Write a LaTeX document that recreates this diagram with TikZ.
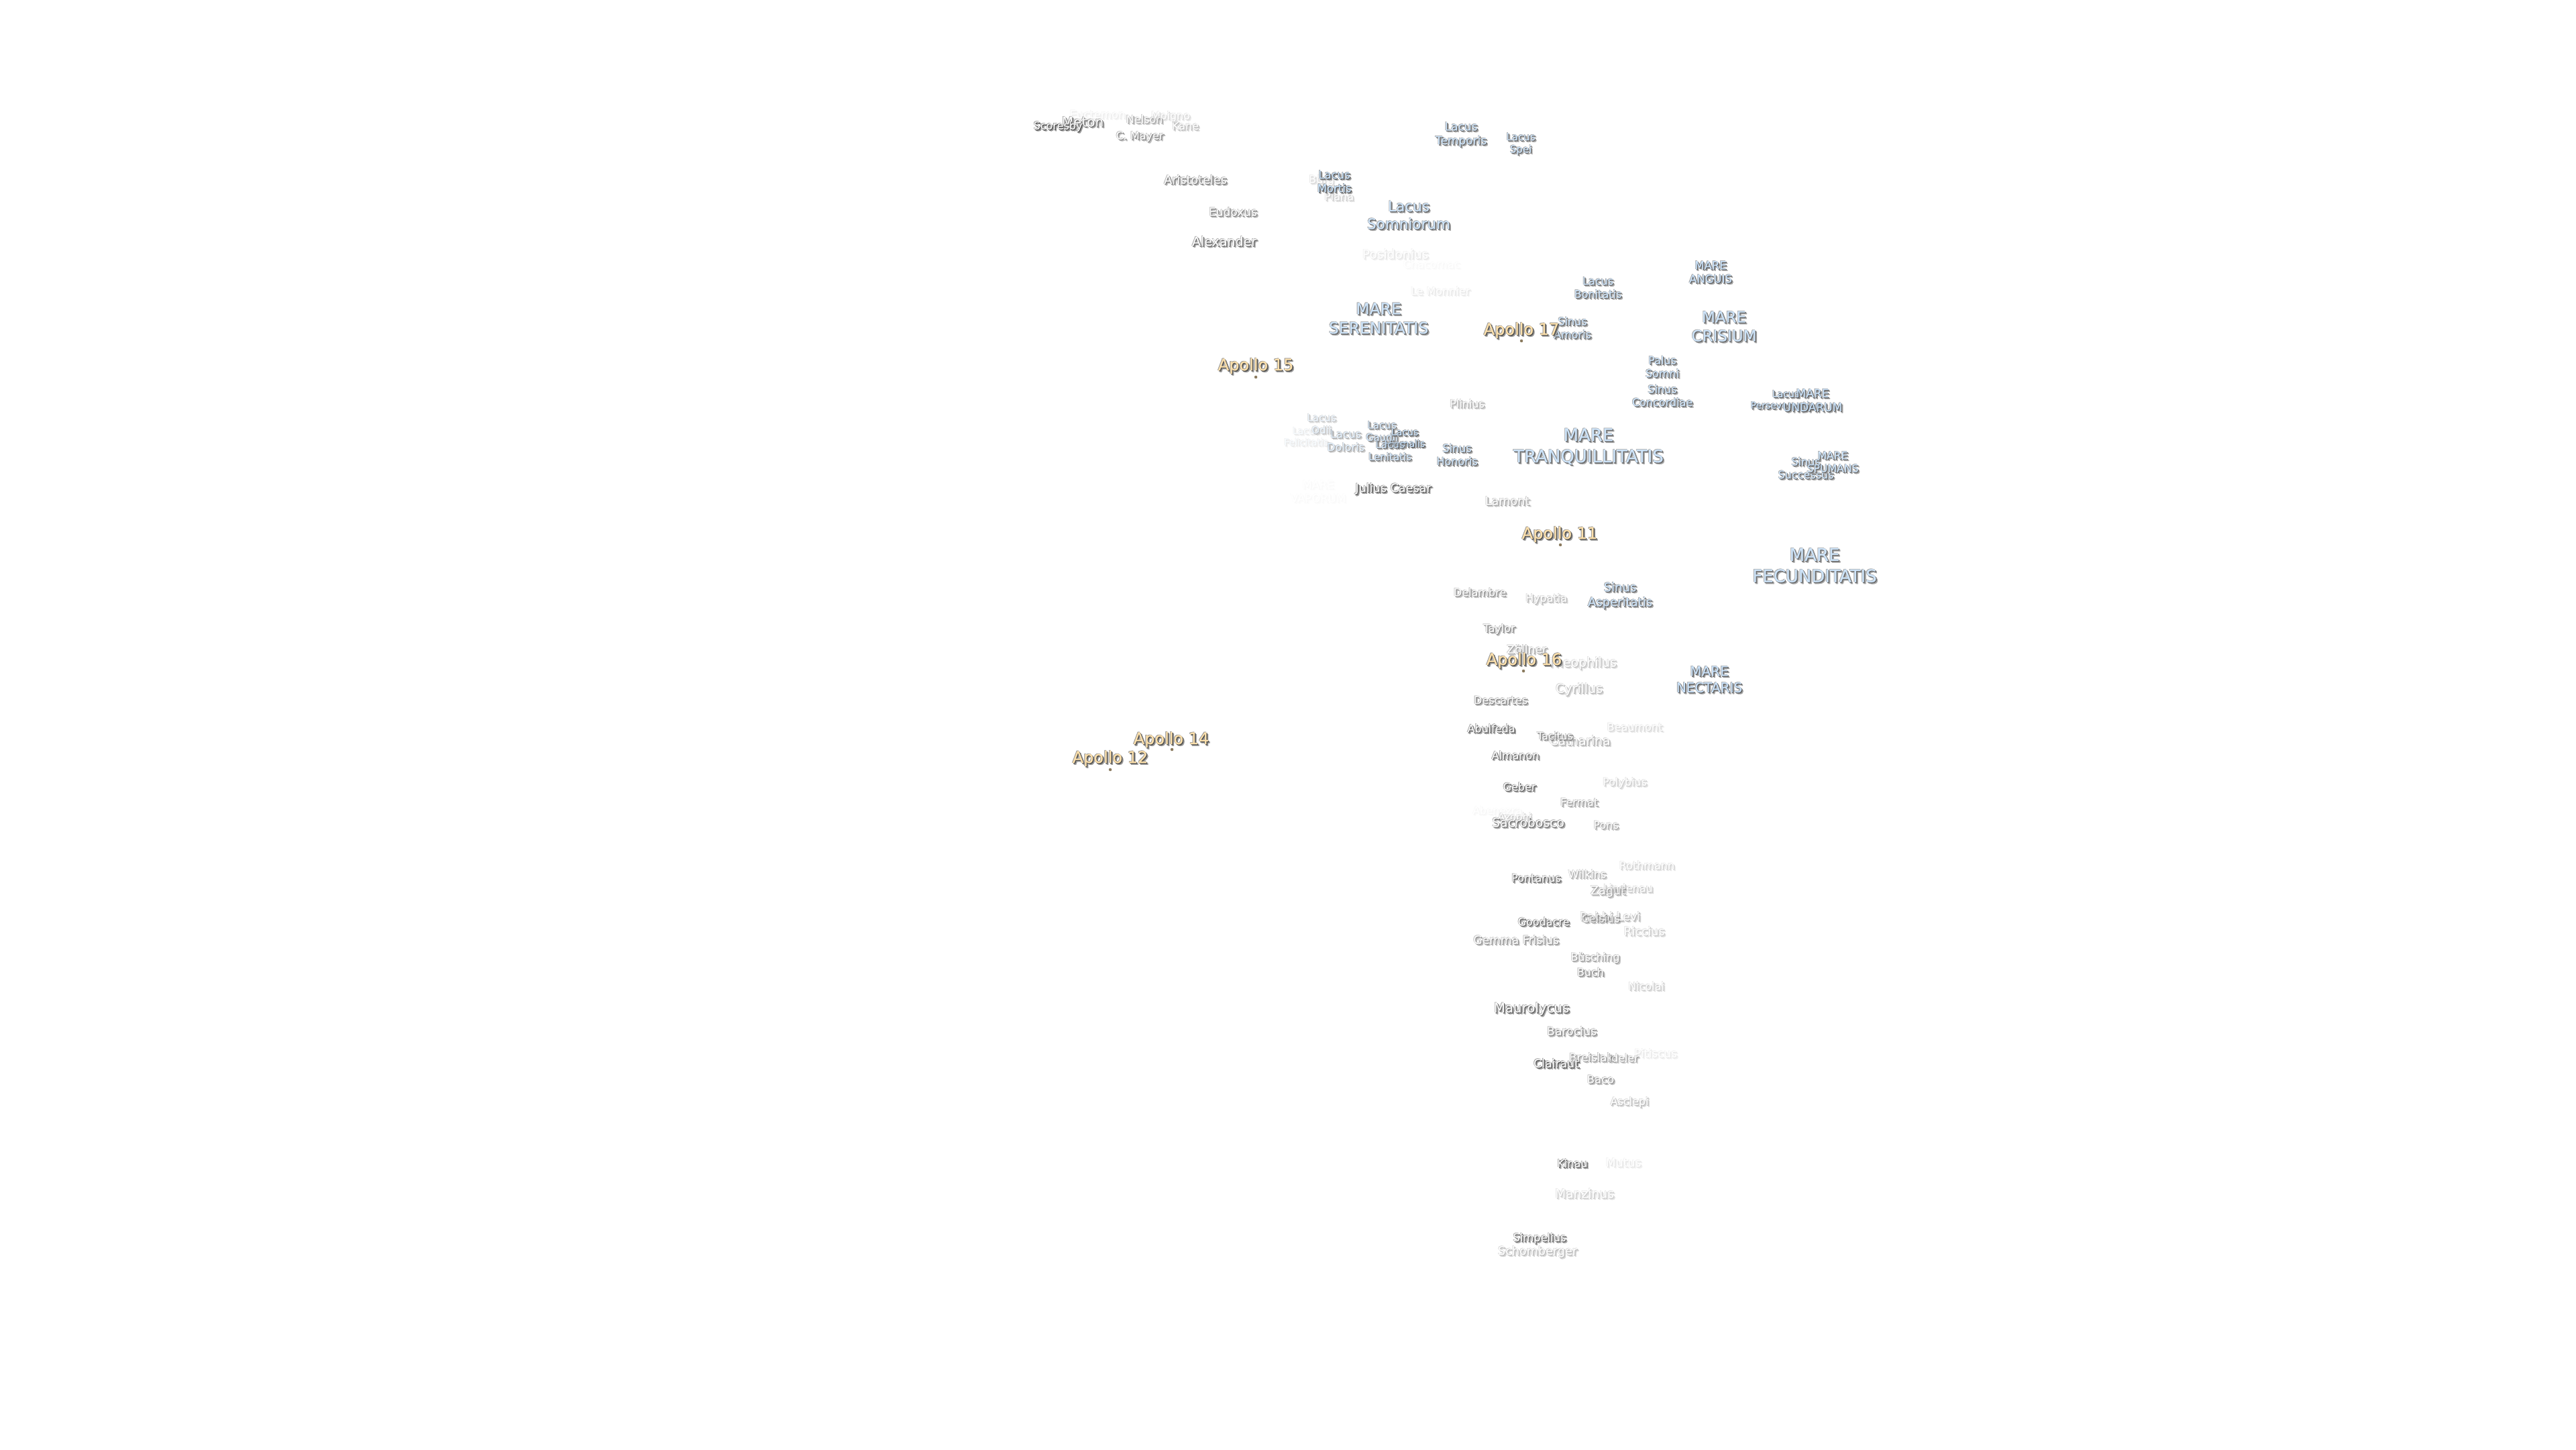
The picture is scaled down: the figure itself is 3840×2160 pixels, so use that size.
\documentclass[tikz,border=0pt]{standalone}
\usepackage{fontspec}
\setmainfont{DejaVu Sans}
\newfontfamily\shadeface{DejaVu Sans}[FakeBold=1.8]
\newfontfamily\fillface{DejaVu Sans}[FakeBold=0.5]
\usepackage{xcolor}
\definecolor{marefill}{HTML}{C4DEF7}
\definecolor{craterfill}{HTML}{F6F6F6}
\definecolor{apollofill}{HTML}{FCE0AC}
\tikzset{
  namebase/.style={inner sep=0pt,align=center},
  farshade/.style={namebase,text=black!40},
  nearshade/.style={namebase,text=black!70},
  rimshade/.style={namebase,text=black!42},
  sitemark/.style={circle,inner sep=0pt,minimum size=4.5pt,fill=apollofill!55!black},
}
% name, x, y, size, opacity, fill, text
\newcommand{\moonname}[7]{%
  \begin{scope}[transparency group,opacity=#5]
    \def\sizeit{\linespread{1.22}\fontsize{#4}{#4}\selectfont}
    \node[farshade,font=\shadeface\sizeit] (#1-far) at (#2+2.6,#3+2.9) {#7};
    \node[rimshade,font=\shadeface\sizeit] (#1-rim) at (#2-0.7,#3-0.2) {#7};
    \node[nearshade,font=\shadeface\sizeit] (#1-near) at (#2+1.1,#3+1.6) {#7};
    \node[namebase,text=#6,font=\fillface\sizeit] (#1) at (#2,#3+0.4) {#7};
  \end{scope}}
\newcommand{\crater}[6]{\moonname{#1}{#2}{#3}{#4}{#5}{craterfill}{#6}}
\newcommand{\water}[6]{\moonname{#1}{#2}{#3}{#4}{#5}{marefill}{#6}}
\newcommand{\landing}[5]{%
  \moonname{#1}{#2}{#3}{24}{1}{apollofill}{#4}%
  \node[sitemark] (#1-site) at #5 {};}
\begin{document}
\begin{tikzpicture}[x=1pt,y=-1pt]
  \useasboundingbox (0,0) rectangle (3840,2160);
  % north
  \crater{euctemon}{1636}{170}{16.5}{.1}{Euctemon}
  \crater{moigno}{1745}{173}{16}{.22}{Moigno}
  \crater{kane}{1767}{187}{16}{.38}{Kane}
  \crater{nelson}{1706}{177}{16}{.5}{Nelson}
  \crater{meton}{1614}{181}{20}{.8}{Meton}
  \crater{scoresby}{1577}{188}{16}{1}{Scoresby}
  \crater{cmayer}{1699}{203}{16}{.65}{C. Mayer}
  \water{temporis}{2178}{200}{17}{.85}{Lacus\\Temporis}
  \water{spei}{2267}{214}{15}{.85}{Lacus\\Spei}
  \crater{aristoteles}{1782}{267}{17.6}{.72}{Aristoteles}
  \crater{burg}{1970}{268}{16}{.22}{Bürg}
  \crater{plana}{1996}{292}{16}{.28}{Plana}
  \water{mortis}{1989}{270}{16.5}{.95}{Lacus\\Mortis}
  \water{somniorum}{2100}{320}{21.5}{.85}{Lacus\\Somniorum}
  \crater{eudoxus}{1838}{315}{17}{.68}{Eudoxus}
  \crater{alexander}{1825}{359}{19}{.82}{Alexander}
  \crater{posidonius}{2080}{378}{18.6}{.14}{Posidonius}
  \crater{chacornac}{2134}{393}{16}{.04}{Chacornac}
  \crater{lemonnier}{2147}{433}{16}{.13}{Le Monnier}
  \water{serenitatis}{2055}{474}{23.5}{.85}{MARE\\SERENITATIS}
  % east
  \water{bonitatis}{2382}{428}{16}{.85}{Lacus\\Bonitatis}
  \water{anguis}{2550}{405}{16.5}{.9}{MARE\\ANGUIS}
  \water{amoris}{2344}{488}{16}{.85}{Sinus\\Amoris}
  \water{crisium}{2570}{486}{23}{.85}{MARE\\CRISIUM}
  \water{somni}{2478}{546}{16}{.85}{Palus\\Somni}
  \water{concordiae}{2478}{589}{16}{.85}{Sinus\\Concordiae}
  \water{perseverantiae}{2662}{595}{14}{.9}{Lacus\\Perseverantiae}
  \water{undarum}{2702}{596}{17}{.9}{MARE\\UNDARUM}
  \water{successus}{2692}{697}{16}{.85}{Sinus\\Successus}
  \water{spumans}{2732}{688}{15.7}{.85}{MARE\\SPUMANS}
  % central lakes
  \crater{plinius}{2187}{601}{16}{.45}{Plinius}
  \crater{vaporum}{1965}{732}{16.5}{.03}{MARE\\VAPORUM}
  \water{felicitatis}{1947}{650}{14}{.13}{Lacus\\Felicitatis}
  \water{odii}{1970}{631}{15}{.33}{Lacus\\Odii}
  \water{doloris}{2006}{656}{16}{.48}{Lacus\\Doloris}
  \water{gaudii}{2060}{642}{15}{.72}{Lacus\\Gaudii}
  \water{hiemalis}{2094}{652}{14}{.95}{Lacus\\Hiemalis}
  \water{lenitatis}{2072}{671}{15}{.78}{Lacus\\Lenitatis}
  \water{honoris}{2172}{677}{16}{.85}{Sinus\\Honoris}
  \water{tranquillitatis}{2368}{665}{26}{.85}{MARE\\TRANQUILLITATIS}
  \crater{caesar}{2077}{728}{17.6}{.92}{Julius Caesar}
  \crater{lamont}{2247}{746}{17.6}{.5}{Lamont}
  \water{fecunditatis}{2705}{842}{26}{.85}{MARE\\FECUNDITATIS}
  % central highlands
  \crater{delambre}{2206}{882}{16}{.6}{Delambre}
  \crater{hypatia}{2305}{892}{16}{.4}{Hypatia}
  \water{asperitatis}{2415}{887}{18}{.85}{Sinus\\Asperitatis}
  \crater{taylor}{2235}{937}{16}{.65}{Taylor}
  \crater{zollner}{2276}{967}{17}{.5}{Zöllner}
  \crater{theophilus}{2358}{988}{19}{.33}{Theophilus}
  \crater{cyrillus}{2354}{1027}{19}{.4}{Cyrillus}
  \water{nectaris}{2548}{1012}{20}{.9}{MARE\\NECTARIS}
  \crater{descartes}{2237}{1043}{16}{.7}{Descartes}
  \crater{abulfeda}{2223}{1085}{16}{.88}{Abulfeda}
  \crater{catharina}{2355}{1103}{18.6}{.45}{Catharina}
  \crater{tacitus}{2318}{1096}{15.5}{.65}{Tacitus}
  \crater{beaumont}{2437}{1083}{16}{.22}{Beaumont}
  \crater{almanon}{2259}{1125}{16}{.82}{Almanon}
  \crater{geber}{2265}{1172}{16}{.88}{Geber}
  \crater{polybius}{2422}{1166}{16}{.28}{Polybius}
  \crater{fermat}{2354}{1195}{16}{.55}{Fermat}
  \crater{abenezra}{2232}{1207}{15.5}{.05}{Abenezra}
  \crater{azophi}{2258}{1218}{15}{.3}{Azophi}
  \crater{sacrobosco}{2278}{1225}{18.8}{.78}{Sacrobosco}
  \crater{pons}{2394}{1229}{16}{.5}{Pons}
  % south
  \crater{rothmann}{2455}{1289}{16}{.25}{Rothmann}
  \crater{wilkins}{2366}{1302}{16}{.45}{Wilkins}
  \crater{pontanus}{2290}{1308}{16}{.85}{Pontanus}
  \crater{lindenau}{2427}{1323}{16}{.33}{Lindenau}
  \crater{zagut}{2397}{1328}{17.7}{.5}{Zagut}
  \crater{rabbilevi}{2400}{1365}{17.4}{.42}{Rabbi Levi}
  \crater{celsius}{2386}{1368}{16}{.55}{Celsius}
  \crater{goodacre}{2301}{1373}{16}{.85}{Goodacre}
  \crater{riccius}{2451}{1387}{17.4}{.3}{Riccius}
  \crater{gemma}{2260}{1400}{17.2}{.6}{Gemma Frisius}
  \crater{busching}{2378}{1427}{16}{.55}{Büsching}
  \crater{buch}{2371}{1448}{16}{.65}{Buch}
  \crater{nicolai}{2454}{1469}{16}{.3}{Nicolai}
  \crater{maurolycus}{2283}{1503}{19.8}{.88}{Maurolycus}
  \crater{barocius}{2343}{1536}{17.3}{.65}{Barocius}
  \crater{pitiscus}{2468}{1569}{17}{.13}{Pitiscus}
  \crater{breislak}{2372}{1575}{16.6}{.55}{Breislak}
  \crater{ideler}{2420}{1576}{15.7}{.5}{Ideler}
  \crater{clairaut}{2320}{1584}{17.3}{.95}{Clairaut}
  \crater{baco}{2386}{1608}{16.4}{.6}{Baco}
  \crater{asclepi}{2429}{1642}{16}{.38}{Asclepi}
  \crater{kinau}{2344}{1733}{16}{.9}{Kinau}
  \crater{mutus}{2420}{1732}{17.4}{.14}{Mutus}
  \crater{manzinus}{2362}{1778}{18.7}{.28}{Manzinus}
  \crater{schomberger}{2292}{1865}{17.6}{.38}{Schomberger}
  \crater{simpelius}{2295}{1845}{16.3}{.85}{Simpelius}
  % landing sites
  \landing{apolloXV}{1872}{545}{Apollo 15}{(1872,562)}
  \landing{apolloXVII}{2268}{492}{Apollo 17}{(2268,508)}
  \landing{apolloXI}{2325}{796}{Apollo 11}{(2326,812)}
  \landing{apolloXVI}{2272}{984}{Apollo 16}{(2271,1000)}
  \landing{apolloXIV}{1746}{1102}{Apollo 14}{(1747,1117)}
  \landing{apolloXII}{1655}{1130}{Apollo 12}{(1655,1147)}
\end{tikzpicture}
\end{document}
